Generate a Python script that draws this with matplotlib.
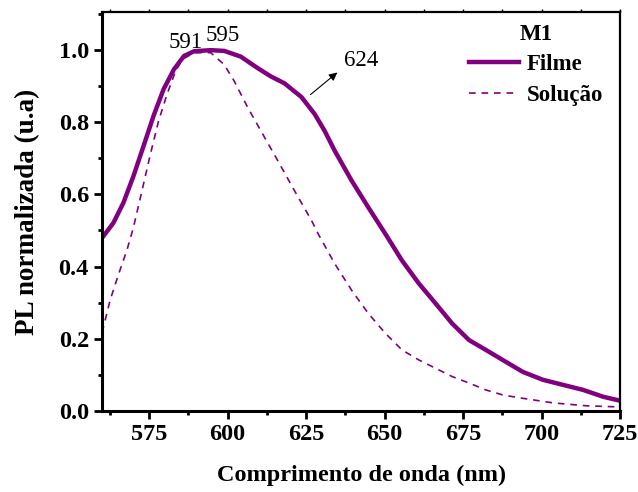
import matplotlib.pyplot as plt
from matplotlib.ticker import MultipleLocator

# 膜（固体）のスペクトル
filme_x = [560.4, 563.6, 566.8, 570.0, 573.2, 576.4, 579.6, 582.9, 586.1, 589.3, 594.6, 598.9,
           604.2, 609.6, 613.8, 618.1, 623.5, 627.7, 630.9, 634.1, 639.5, 644.8, 650.2, 655.5,
           660.9, 666.2, 671.5, 676.9, 682.2, 687.6, 694.0, 700.4, 706.8, 713.2, 719.6, 725.0]
filme_y = [0.484, 0.521, 0.577, 0.651, 0.734, 0.818, 0.892, 0.947, 0.984, 0.997, 1.0, 0.998,
           0.982, 0.950, 0.927, 0.908, 0.870, 0.823, 0.776, 0.721, 0.638, 0.564, 0.491, 0.417,
           0.353, 0.298, 0.242, 0.196, 0.169, 0.141, 0.108, 0.086, 0.072, 0.058, 0.039, 0.028]

# 溶液のスペクトル
solucao_x = [560.0, 562.6, 565.3, 567.9, 570.0, 572.7, 575.4, 578.0, 580.7, 583.4, 585.5, 589.3,
             594.6, 598.9, 602.1, 606.4, 610.6, 616.0, 621.3, 626.7, 628.8, 634.1, 639.5, 644.8,
             650.2, 655.5, 660.9, 666.2, 671.5, 676.9, 682.2, 687.6, 693.0, 703.6, 714.2, 723.8]
solucao_y = [0.217, 0.308, 0.380, 0.445, 0.509, 0.610, 0.712, 0.804, 0.878, 0.942, 0.974, 0.993,
             0.993, 0.960, 0.914, 0.841, 0.776, 0.693, 0.610, 0.528, 0.491, 0.408, 0.334, 0.270,
             0.215, 0.169, 0.141, 0.118, 0.095, 0.077, 0.058, 0.044, 0.036, 0.022, 0.014, 0.011]

cor = "#800080"
plt.rcParams['font.family'] = ['Liberation Serif', 'DejaVu Serif']

fig = plt.figure(figsize=(6.38, 4.92), dpi=100)
ax = fig.add_axes([0.16, 0.165, 0.812, 0.81])

ax.plot(filme_x, filme_y, color=cor, lw=3.2, label="Filme")
ax.plot(solucao_x, solucao_y, color=cor, lw=1.2, ls=(0, (4, 3.5)), label="Solução")

ax.set_xlim(560, 725)
ax.set_ylim(0, 1.105)
ax.xaxis.set_major_locator(MultipleLocator(25))
ax.xaxis.set_minor_locator(MultipleLocator(12.5))
ax.yaxis.set_major_locator(MultipleLocator(0.2))
ax.yaxis.set_minor_locator(MultipleLocator(0.1))
ax.yaxis.set_major_formatter(plt.FuncFormatter(lambda v, p: f"{v:.1f}"))

ax.tick_params(axis='both', which='major', direction='out', length=6, width=2, labelsize=17.5)
ax.tick_params(axis='both', which='minor', direction='out', length=3, width=2)
ax.tick_params(axis='x', which='both', top=True, labeltop=False)
for lab in ax.get_xticklabels() + ax.get_yticklabels():
    lab.set_fontweight('bold')
for s in ['left', 'bottom']:
    ax.spines[s].set_linewidth(2.2)
for s in ['top', 'right']:
    ax.spines[s].set_linewidth(1.6)
# 上側の目盛りは小さく
for t in ax.xaxis.get_major_ticks() + ax.xaxis.get_minor_ticks():
    t.tick2line.set_markersize(2)
    t.tick2line.set_markeredgewidth(1)

ax.set_xlabel("Comprimento de onda (nm)", fontsize=17.5, fontweight='bold', labelpad=14)
ax.set_ylabel("PL normalizada (u.a)", fontsize=19.5, fontweight='bold', labelpad=13)

ax.text(586.6, 1.022, "591", fontsize=16.5, ha='center', va='center')
ax.text(598.5, 1.042, "595", fontsize=16.5, ha='center', va='center')
ax.text(642.5, 0.972, "624", fontsize=16.5, ha='center', va='center')
ax.annotate("", xy=(635.6, 0.943), xytext=(625.7, 0.872),
            arrowprops=dict(arrowstyle='-|>', color='black', lw=0.8, mutation_scale=12))

leg = ax.legend(loc='upper right', bbox_to_anchor=(0.99, 1.0), frameon=False, title="M1",
                prop={'weight': 'bold', 'size': 16.5}, handlelength=2.2, handletextpad=0.35,
                labelspacing=0.42, borderaxespad=0.1)
leg.get_title().set_fontweight('bold')
leg.get_title().set_fontsize(16.5)

fig.savefig("out.png", dpi=100)
plt.close()
